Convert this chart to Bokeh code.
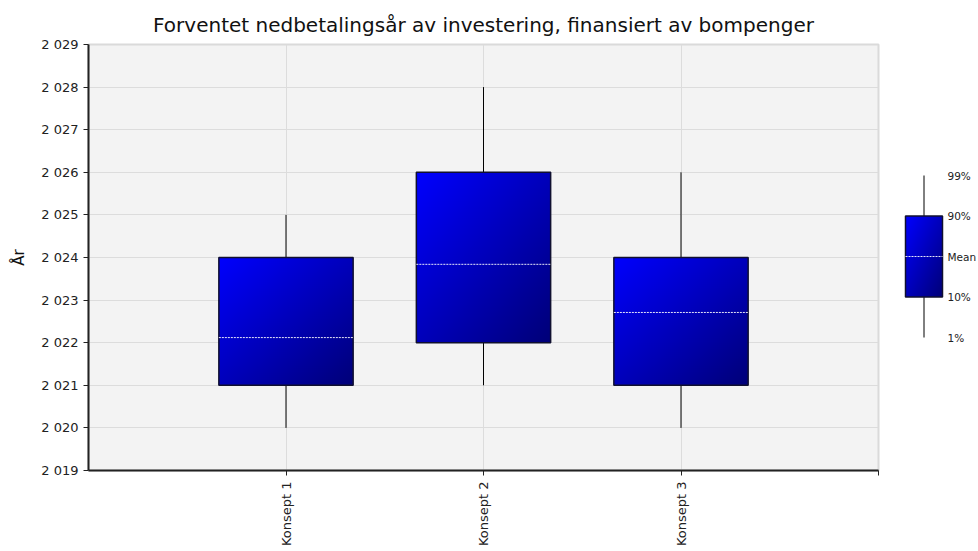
import math
import numpy as np
from bokeh.plotting import figure
from bokeh.models import FixedTicker, Range1d
from bokeh.layouts import row
from bokeh.embed import file_html
from bokeh.resources import INLINE
from bokeh.core.properties import value

# ---- data ----
categories = ["Konsept 1", "Konsept 2", "Konsept 3"]
x_pos = [1, 2, 3]
p1 = [2020, 2021, 2020]
p10 = [2021, 2022, 2021]
mean = [2022.12, 2023.84, 2022.71]
p90 = [2024, 2026, 2024]
p99 = [2025, 2028, 2026]
y_ticks = [2019, 2020, 2021, 2022, 2023, 2024, 2025, 2026, 2027, 2028, 2029]
y_tick_labels = ["2 019", "2 020", "2 021", "2 022", "2 023", "2 024",
                 "2 025", "2 026", "2 027", "2 028", "2 029"]
legend_levels = [0, 1, 2, 3, 4]
legend_labels = ["1%", "10%", "Mean", "90%", "99%"]

FONT = "DejaVu Sans"
box_w = 0.68
H = 550
TOP = 44
FRAME_H = 426

def gradient_img(n=200):
    xs = np.linspace(0, 1, n)
    ys = np.linspace(0, 1, n)
    X, Y = np.meshgrid(xs, ys)  # row 0 = bottom
    d = (X + (1 - Y)) / 2.0
    b = (255 - d * 135).astype(np.uint32)
    img = np.empty((n, n), dtype=np.uint32)
    view = img.view(dtype=np.uint8).reshape((n, n, 4))
    view[:, :, 0] = 0
    view[:, :, 1] = 0
    view[:, :, 2] = b
    view[:, :, 3] = 255
    return img

p = figure(width=890, height=H, output_backend="svg", toolbar_location=None,
           x_range=Range1d(0, 4), y_range=Range1d(2019, 2029),
           min_border_left=88, min_border_right=12, min_border_top=TOP,
           min_border_bottom=H - TOP - FRAME_H)
p.title.text = "Forventet nedbetalingsår av investering, finansiert av bompenger"
p.title.align = "center"
p.title.text_font = FONT
p.title.text_font_size = "20px"
p.title.text_font_style = "normal"
p.title.text_color = "#111111"
p.title.offset = 0
p.title.standoff = 16

p.background_fill_color = "#F3F3F3"
p.border_fill_color = "white"
p.outline_line_color = "#DADADA"
p.outline_line_width = 2

p.xgrid.grid_line_color = "#DCDCDC"
p.ygrid.grid_line_color = "#DCDCDC"

p.xaxis.ticker = FixedTicker(ticks=x_pos + [4])
p.xaxis.major_label_overrides = {**{x: c for x, c in zip(x_pos, categories)}, 4: ""}
p.xaxis.major_label_orientation = math.pi / 2
p.yaxis.ticker = FixedTicker(ticks=y_ticks)
p.yaxis.major_label_overrides = {t: l for t, l in zip(y_ticks, y_tick_labels)}
p.xgrid.ticker = FixedTicker(ticks=x_pos)
p.yaxis.axis_label = "År"
p.yaxis.axis_label_text_font = FONT
p.yaxis.axis_label_text_font_style = "normal"
p.yaxis.axis_label_text_font_size = "15px"
p.yaxis.axis_label_text_color = "#111111"
p.yaxis.axis_label_standoff = 10
for ax in (p.xaxis[0], p.yaxis[0]):
    ax.axis_line_width = 2
    ax.axis_line_color = "#222222"
    ax.major_tick_line_color = "#222222"
    ax.major_tick_out = 5
    ax.major_tick_in = 0
    ax.minor_tick_line_color = None
    ax.major_label_text_font = FONT
    ax.major_label_text_font_size = "13px"
    ax.major_label_text_color = "#222222"
p.xaxis.major_label_standoff = 6

# whiskers
p.segment(x0=x_pos, y0=p1, x1=x_pos, y1=p10, line_color="black", line_width=1)
p.segment(x0=x_pos, y0=p90, x1=x_pos, y1=p99, line_color="black", line_width=1)

# gradient boxes
img = gradient_img()
lefts = [x - box_w / 2 for x in x_pos]
rights = [x + box_w / 2 for x in x_pos]
heights = [b - a for a, b in zip(p10, p90)]
p.image_rgba(image=[img] * len(x_pos), x=lefts, y=p10,
             dw=[box_w] * len(x_pos), dh=heights)
p.quad(left=lefts, right=rights, bottom=p10, top=p90,
       fill_color=None, line_color="#101030", line_width=1.5)
# mean lines
p.segment(x0=lefts, y0=mean, x1=rights, y1=mean,
          line_color="white", line_alpha=0.9, line_width=1, line_dash="2 1")

# ---- legend figure (its frame is aligned with the main frame by the row) ----
step = 40.5
y0 = -(TOP + FRAME_H - 337) / step
lg = figure(width=86, height=H, output_backend="svg", toolbar_location=None,
            x_range=Range1d(0, 86), y_range=Range1d(y0, y0 + FRAME_H / step),
            min_border=0)
lg.axis.visible = False
lg.grid.visible = False
lg.outline_line_color = None
lg.background_fill_color = "white"
lx = [33.5]
lg.segment(x0=lx, y0=[legend_levels[0]], x1=lx, y1=[legend_levels[1]], line_color="black")
lg.segment(x0=lx, y0=[legend_levels[3]], x1=lx, y1=[legend_levels[4]], line_color="black")
lg.image_rgba(image=[img], x=[15], y=[legend_levels[1]], dw=[37],
              dh=[legend_levels[3] - legend_levels[1]])
lg.quad(left=[15], right=[52], bottom=[legend_levels[1]], top=[legend_levels[3]],
        fill_color=None, line_color="#101030", line_width=1.5)
lg.segment(x0=[15], y0=[legend_levels[2]], x1=[52], y1=[legend_levels[2]],
           line_color="white", line_alpha=0.9, line_dash="2 1")
lg.text(x=[57] * 5, y=legend_levels, text=legend_labels,
        text_font=value(FONT), text_font_size="10.5px", text_color="#222222",
        text_baseline="middle", text_align="left")

layout = row(p, lg, spacing=0)
open("out.html", "w").write(file_html(layout, INLINE))
